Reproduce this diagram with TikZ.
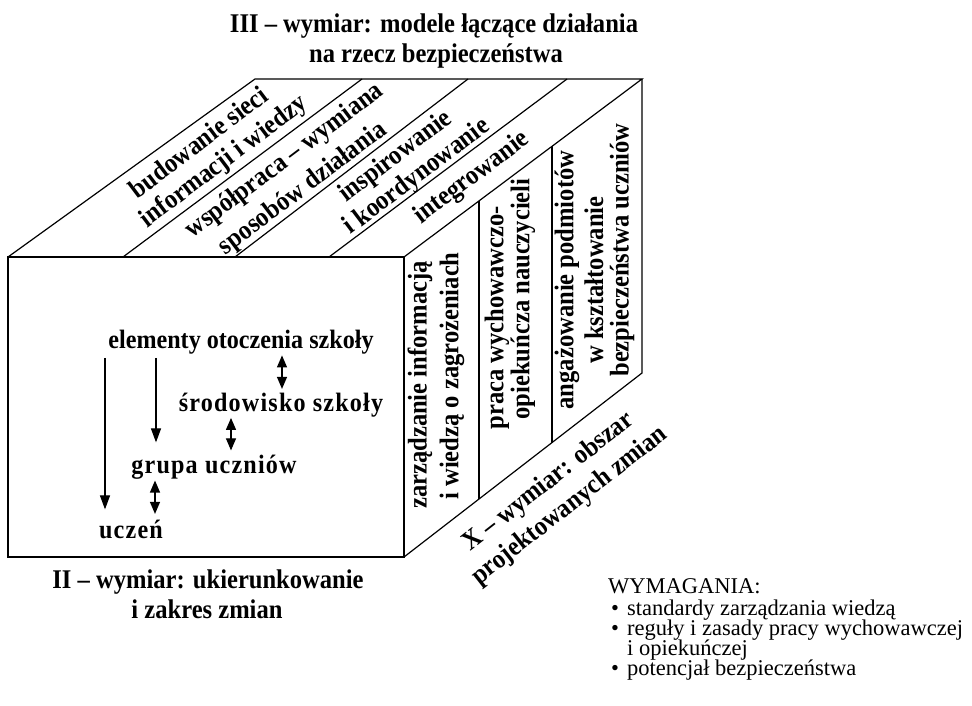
\documentclass[tikz,border=0pt]{standalone}
\usepackage{fontspec}
\setmainfont{Liberation Serif}
\newfontfamily\condfont[FakeStretch=0.91]{Liberation Serif}
\newfontfamily\condspaced[FakeStretch=0.91,LetterSpace=4.5]{Liberation Serif}
\usetikzlibrary{arrows.meta,calc}
\begin{document}
\begin{tikzpicture}[x=1pt,y=-1pt,
  edge/.style={line width=1.2pt, line join=miter},
  big/.style={font=\condfont\fontsize{27}{30}\selectfont\bfseries, inner sep=0pt},
  bigbase/.style={big, anchor=base},
  topt/.style={big, rotate=37},
  xlab/.style={big, rotate=38},
  sidet/.style={big, rotate=90},
  fronta/.style={font=\condfont\fontsize{26.5}{30}\selectfont\bfseries, inner sep=0pt, anchor=base},
  frontb/.style={font=\condspaced\fontsize{26.5}{30}\selectfont\bfseries, inner sep=0pt, anchor=base},
  req/.style={font=\fontsize{22.5}{25}\selectfont, inner sep=0pt, anchor=base west},
  arr/.style={line width=1.2pt, -{Triangle[length=14pt,width=10pt]}},
  darr/.style={line width=1.2pt, {Triangle[length=12pt,width=10pt]}-{Triangle[length=12pt,width=10pt]}},
]
\path[use as bounding box] (0,0) rectangle (972,706);

% ---- box ----
\coordinate (FTL) at (8,257);
\coordinate (FTR) at (404,257);
\coordinate (FBL) at (8,557);
\coordinate (FBR) at (404,557);
\coordinate (BTL) at (255,79);
\coordinate (BTR) at (642,79);
\coordinate (BBR) at (642,373);
\draw[edge] (FTL) rectangle (FBR);
\draw[edge] (FTL) -- (BTL) -- (BTR) -- (FTR);
\draw[edge] (BTR) -- (BBR) -- (FBR);
% top dividers
\draw[edge] (123,257) -- (362,79);
\draw[edge] (235,257) -- (468,79);
\draw[edge] (329,257) -- (567,79);
% side dividers
\draw[edge] ($(FTR)!0.3151!(BTR)$) -- ($(FBR)!0.3151!(BBR)$);
\draw[edge] ($(FTR)!0.6218!(BTR)$) -- ($(FBR)!0.6218!(BBR)$);

% ---- titles ----
\node[bigbase] (title3a) at (434,33) {III – wymiar: modele łączące działania};
\node[bigbase] (title3b) at (436,63) {na rzecz bezpieczeństwa};
\node[bigbase] (title2a) at (208,588) {II – wymiar: ukierunkowanie};
\node[bigbase] (title2b) at (207,618) {i zakres zmian};
\node[xlab] (titlexa) at (549,482) {X – wymiar: obszar};
\node[xlab] (titlexb) at (570,506) {projektowanych zmian};

% ---- top face ----
\node[topt] (t1a) at (198,142) {budowanie sieci};
\node[topt] (t1b) at (224,162) {informacji i wiedzy};
\node[topt] (t2a) at (285,161) {współpraca – wymiana};
\node[topt] (t2b) at (303,189) {sposobów działania};
\node[topt] (t3a) at (396,157) {inspirowanie};
\node[topt] (t3b) at (417,177) {i koordynowanie};
\node[topt] (t4a) at (472,178) {integrowanie};

% ---- side face ----
\node[sidet] (r1a) at (420,385) {zarządzanie informacją};
\node[sidet] (r1b) at (452,376) {i wiedzą o zagrożeniach};
\node[sidet] (r2a) at (497,318) {praca wychowawczo-};
\node[sidet] (r2b) at (523,299) {opiekuńcza nauczycieli};
\node[sidet] (r3a) at (567,280) {angażowanie podmiotów};
\node[sidet] (r3b) at (594,280) {w kształtowanie};
\node[sidet] (r3c) at (622,250) {bezpieczeństwa uczniów};

% ---- front face ----
\node[fronta] (elem) at (241,348) {elementy otoczenia szkoły};
\node[frontb] (srod) at (281,411) {środowisko szkoły};
\node[frontb] (grupa) at (214,473) {grupa uczniów};
\node[frontb] (uczen) at (131,538) {uczeń};
\coordinate (xa) at (105,0);
\coordinate (xb) at (156,0);
\coordinate (xc) at (282,0);
\coordinate (xd) at (231,0);
\coordinate (xe) at (155,0);
\draw[arr] ([yshift=-4pt]elem.south -| xa) -- ([yshift=10pt]uczen.north -| xa);
\draw[arr] ([yshift=-4pt]elem.south -| xb) -- ([yshift=12pt]grupa.north -| xb);
\draw[darr] ([yshift=-1.5pt]elem.south -| xc) -- ([yshift=3.5pt]srod.north -| xc);
\draw[darr] ([yshift=-1pt]srod.south -| xd) -- ([yshift=4pt]grupa.north -| xd);
\draw[darr] ([yshift=-1.5pt]grupa.south -| xe) -- ([yshift=5.5pt]uczen.north -| xe);

% ---- requirements ----
\node[req] (wym) at (608,593) {WYMAGANIA:};
\node[req] (q1) at (611,615) {•\hspace{8pt}standardy zarządzania wiedzą};
\node[req] (q2) at (611,635) {•\hspace{8pt}reguły i zasady pracy wychowawczej};
\node[req] (q3) at (627,655) {i opiekuńczej};
\node[req] (q4) at (611,675) {•\hspace{8pt}potencjał bezpieczeństwa};
\end{tikzpicture}
\end{document}
